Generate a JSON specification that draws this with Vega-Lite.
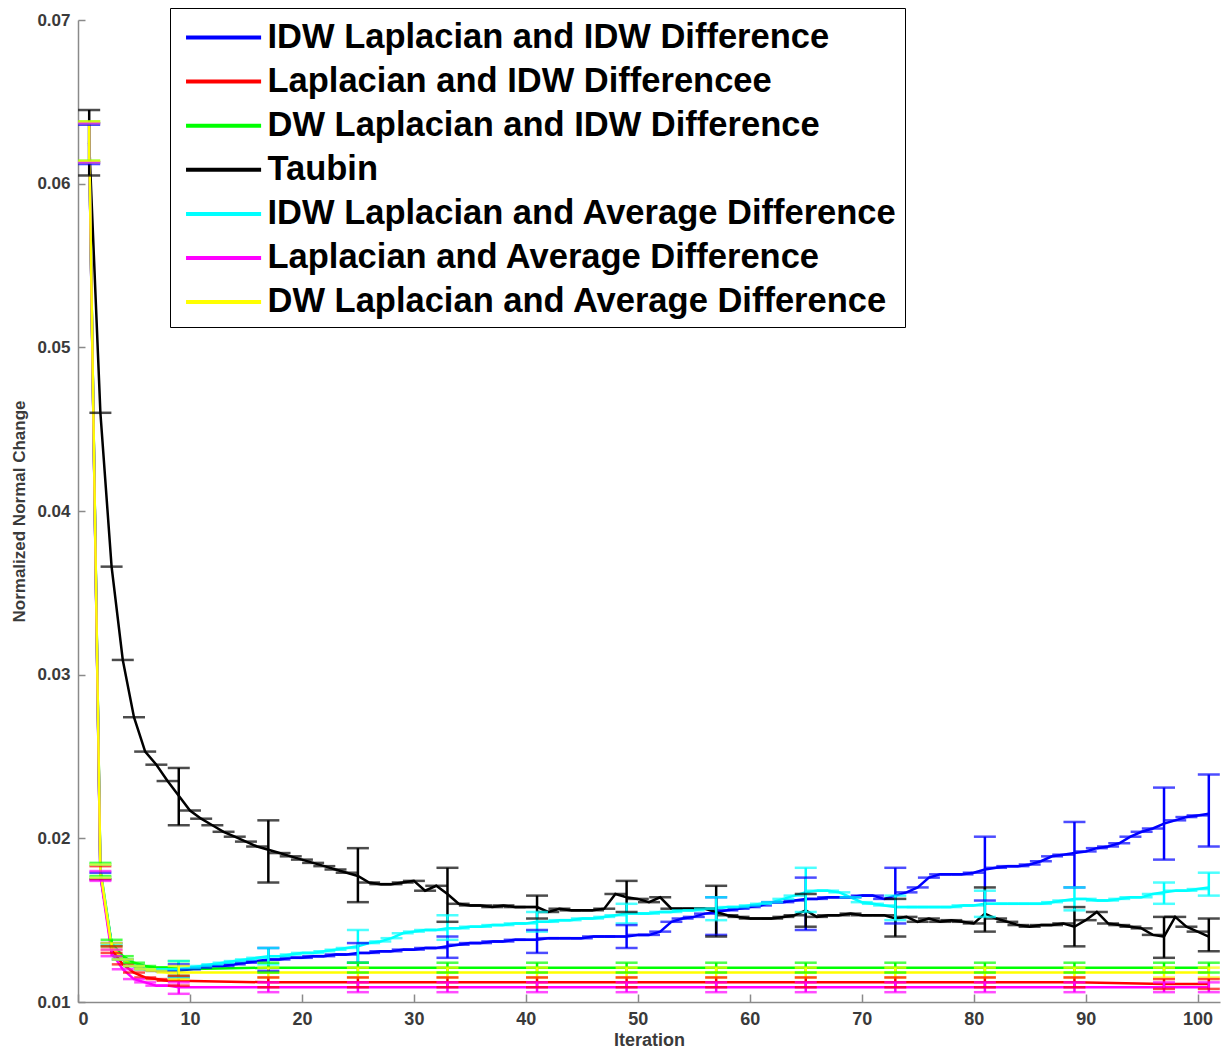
{
"$schema": "https://vega.github.io/schema/vega-lite/v6.json",
"width": 1142, "height": 982,
"autosize": "none",
"padding": {"left": 78, "top": 20, "right": 7, "bottom": 48},
"background": "white",
"config": {"view": {"stroke": null}, "font": "Liberation Sans"},
"datasets": {
"names": [
{"s":"B","name":"IDW Laplacian and IDW Difference"},
{"s":"R","name":"Laplacian and IDW Differencee"},
{"s":"G","name":"DW Laplacian and IDW Difference"},
{"s":"T","name":"Taubin"},
{"s":"C","name":"IDW Laplacian and Average Difference"},
{"s":"M","name":"Laplacian and Average Difference"},
{"s":"Y","name":"DW Laplacian and Average Difference"}
],
"pts": [
{"s":"B","it":1,"y":0.0624,"lo":0.0612,"hi":0.0636},
{"s":"B","it":2,"y":0.0177,"lo":0.0175,"hi":0.0179},
{"s":"B","it":3,"y":0.0136},{"s":"B","it":4,"y":0.0126},{"s":"B","it":5,"y":0.0122},{"s":"B","it":6,"y":0.0120},{"s":"B","it":7,"y":0.0119},{"s":"B","it":8,"y":0.0119},
{"s":"B","it":9,"y":0.0119,"lo":0.0115,"hi":0.0123},
{"s":"B","it":10,"y":0.0120},{"s":"B","it":11,"y":0.0121},{"s":"B","it":12,"y":0.0122},{"s":"B","it":13,"y":0.0122},{"s":"B","it":14,"y":0.0123},{"s":"B","it":15,"y":0.0124},{"s":"B","it":16,"y":0.0125},
{"s":"B","it":17,"y":0.0126,"lo":0.0119,"hi":0.0133},
{"s":"B","it":18,"y":0.0126},{"s":"B","it":19,"y":0.0127},{"s":"B","it":20,"y":0.0127},{"s":"B","it":21,"y":0.0128},{"s":"B","it":22,"y":0.0128},{"s":"B","it":23,"y":0.0129},{"s":"B","it":24,"y":0.0129},
{"s":"B","it":25,"y":0.0130,"lo":0.0124,"hi":0.0136},
{"s":"B","it":26,"y":0.0130},{"s":"B","it":27,"y":0.0131},{"s":"B","it":28,"y":0.0131},{"s":"B","it":29,"y":0.0132},{"s":"B","it":30,"y":0.0132},{"s":"B","it":31,"y":0.0133},{"s":"B","it":32,"y":0.0133},
{"s":"B","it":33,"y":0.0134,"lo":0.0127,"hi":0.0140},
{"s":"B","it":34,"y":0.0135},{"s":"B","it":35,"y":0.0136},{"s":"B","it":36,"y":0.0136},{"s":"B","it":37,"y":0.0137},{"s":"B","it":38,"y":0.0137},{"s":"B","it":39,"y":0.0138},{"s":"B","it":40,"y":0.0138},
{"s":"B","it":41,"y":0.0138,"lo":0.0130,"hi":0.0144},
{"s":"B","it":42,"y":0.0139},{"s":"B","it":43,"y":0.0139},{"s":"B","it":44,"y":0.0139},{"s":"B","it":45,"y":0.0139},{"s":"B","it":46,"y":0.0140},{"s":"B","it":47,"y":0.0140},{"s":"B","it":48,"y":0.0140},
{"s":"B","it":49,"y":0.0140,"lo":0.0133,"hi":0.0147},
{"s":"B","it":50,"y":0.0141},{"s":"B","it":51,"y":0.0141},{"s":"B","it":52,"y":0.0143},{"s":"B","it":53,"y":0.0149},{"s":"B","it":54,"y":0.0151},{"s":"B","it":55,"y":0.0152},{"s":"B","it":56,"y":0.0154},
{"s":"B","it":57,"y":0.0155,"lo":0.0141,"hi":0.0164},
{"s":"B","it":58,"y":0.0156},{"s":"B","it":59,"y":0.0157},{"s":"B","it":60,"y":0.0158},{"s":"B","it":61,"y":0.0159},{"s":"B","it":62,"y":0.0161},{"s":"B","it":63,"y":0.0161},{"s":"B","it":64,"y":0.0162},
{"s":"B","it":65,"y":0.0163,"lo":0.0144,"hi":0.0176},
{"s":"B","it":66,"y":0.0163},{"s":"B","it":67,"y":0.0164},{"s":"B","it":68,"y":0.0164},{"s":"B","it":69,"y":0.0164},{"s":"B","it":70,"y":0.0165},{"s":"B","it":71,"y":0.0165},{"s":"B","it":72,"y":0.0163},
{"s":"B","it":73,"y":0.0165,"lo":0.0148,"hi":0.0182},
{"s":"B","it":74,"y":0.0167},{"s":"B","it":75,"y":0.0170},{"s":"B","it":76,"y":0.0176},{"s":"B","it":77,"y":0.0178},{"s":"B","it":78,"y":0.0178},{"s":"B","it":79,"y":0.0178},{"s":"B","it":80,"y":0.0179},
{"s":"B","it":81,"y":0.0181,"lo":0.0162,"hi":0.0201},
{"s":"B","it":82,"y":0.0182},{"s":"B","it":83,"y":0.0183},{"s":"B","it":84,"y":0.0183},{"s":"B","it":85,"y":0.0184},{"s":"B","it":86,"y":0.0186},{"s":"B","it":87,"y":0.0189},{"s":"B","it":88,"y":0.0190},
{"s":"B","it":89,"y":0.0191,"lo":0.0170,"hi":0.0210},
{"s":"B","it":90,"y":0.0192},{"s":"B","it":91,"y":0.0194},{"s":"B","it":92,"y":0.0195},{"s":"B","it":93,"y":0.0197},{"s":"B","it":94,"y":0.0201},{"s":"B","it":95,"y":0.0204},{"s":"B","it":96,"y":0.0206},
{"s":"B","it":97,"y":0.0209,"lo":0.0187,"hi":0.0231},
{"s":"B","it":98,"y":0.0211},{"s":"B","it":99,"y":0.0213},{"s":"B","it":100,"y":0.0214},
{"s":"B","it":101,"y":0.0215,"lo":0.0195,"hi":0.0239},

{"s":"R","it":1,"y":0.0625,"lo":0.0613,"hi":0.0637},
{"s":"R","it":2,"y":0.0179,"lo":0.0175,"hi":0.0183},
{"s":"R","it":3,"y":0.0132,"lo":0.0130,"hi":0.0134},
{"s":"R","it":4,"y":0.0123},{"s":"R","it":5,"y":0.0118},{"s":"R","it":6,"y":0.0115},{"s":"R","it":7,"y":0.0114},{"s":"R","it":8,"y":0.0113},
{"s":"R","it":9,"y":0.0113,"lo":0.0110,"hi":0.0116},
{"s":"R","it":17,"y":0.0112,"lo":0.0109,"hi":0.0115},
{"s":"R","it":25,"y":0.0112,"lo":0.0109,"hi":0.0115},
{"s":"R","it":33,"y":0.0112,"lo":0.0109,"hi":0.0115},
{"s":"R","it":41,"y":0.0112,"lo":0.0109,"hi":0.0115},
{"s":"R","it":49,"y":0.0112,"lo":0.0109,"hi":0.0115},
{"s":"R","it":57,"y":0.0112,"lo":0.0109,"hi":0.0115},
{"s":"R","it":65,"y":0.0112,"lo":0.0109,"hi":0.0115},
{"s":"R","it":73,"y":0.0112,"lo":0.0109,"hi":0.0115},
{"s":"R","it":81,"y":0.0112,"lo":0.0109,"hi":0.0115},
{"s":"R","it":89,"y":0.0112,"lo":0.0109,"hi":0.0115},
{"s":"R","it":97,"y":0.0111,"lo":0.0108,"hi":0.0114},
{"s":"R","it":101,"y":0.0111,"lo":0.0108,"hi":0.0114},

{"s":"G","it":1,"y":0.0626,"lo":0.0614,"hi":0.0638},
{"s":"G","it":2,"y":0.0181,"lo":0.0177,"hi":0.0185},
{"s":"G","it":3,"y":0.0136,"lo":0.0134,"hi":0.0138},
{"s":"G","it":4,"y":0.0128},{"s":"G","it":5,"y":0.0124},{"s":"G","it":6,"y":0.0122},{"s":"G","it":7,"y":0.0121},{"s":"G","it":8,"y":0.0121},
{"s":"G","it":9,"y":0.0120,"lo":0.0116,"hi":0.0125},
{"s":"G","it":17,"y":0.0121,"lo":0.0118,"hi":0.0124},
{"s":"G","it":25,"y":0.0121,"lo":0.0118,"hi":0.0124},
{"s":"G","it":33,"y":0.0121,"lo":0.0118,"hi":0.0124},
{"s":"G","it":41,"y":0.0121,"lo":0.0118,"hi":0.0124},
{"s":"G","it":49,"y":0.0121,"lo":0.0118,"hi":0.0124},
{"s":"G","it":57,"y":0.0121,"lo":0.0118,"hi":0.0124},
{"s":"G","it":65,"y":0.0121,"lo":0.0118,"hi":0.0124},
{"s":"G","it":73,"y":0.0121,"lo":0.0118,"hi":0.0124},
{"s":"G","it":81,"y":0.0121,"lo":0.0118,"hi":0.0124},
{"s":"G","it":89,"y":0.0121,"lo":0.0118,"hi":0.0124},
{"s":"G","it":97,"y":0.0121,"lo":0.0118,"hi":0.0124},
{"s":"G","it":101,"y":0.0121,"lo":0.0118,"hi":0.0124},

{"s":"T","it":1,"y":0.0625,"lo":0.0605,"hi":0.0645},
{"s":"T","it":2,"y":0.0460},{"s":"T","it":3,"y":0.0366},{"s":"T","it":4,"y":0.0309},{"s":"T","it":5,"y":0.0274},{"s":"T","it":6,"y":0.0253},{"s":"T","it":7,"y":0.0245},{"s":"T","it":8,"y":0.0235},
{"s":"T","it":9,"y":0.0226,"lo":0.0208,"hi":0.0243},
{"s":"T","it":10,"y":0.0217},{"s":"T","it":11,"y":0.0212},{"s":"T","it":12,"y":0.0208},{"s":"T","it":13,"y":0.0204},{"s":"T","it":14,"y":0.0201},{"s":"T","it":15,"y":0.0198},{"s":"T","it":16,"y":0.0195},
{"s":"T","it":17,"y":0.0193,"lo":0.0173,"hi":0.0211},
{"s":"T","it":18,"y":0.0191},{"s":"T","it":19,"y":0.0189},{"s":"T","it":20,"y":0.0187},{"s":"T","it":21,"y":0.0185},{"s":"T","it":22,"y":0.0183},{"s":"T","it":23,"y":0.0181},{"s":"T","it":24,"y":0.0179},
{"s":"T","it":25,"y":0.0177,"lo":0.0161,"hi":0.0194},
{"s":"T","it":26,"y":0.0173},{"s":"T","it":27,"y":0.0172},{"s":"T","it":28,"y":0.0172},{"s":"T","it":29,"y":0.0173},{"s":"T","it":30,"y":0.0174},{"s":"T","it":31,"y":0.0168},{"s":"T","it":32,"y":0.0171},
{"s":"T","it":33,"y":0.0166,"lo":0.0149,"hi":0.0182},
{"s":"T","it":34,"y":0.0160},{"s":"T","it":35,"y":0.0159},{"s":"T","it":36,"y":0.0159},{"s":"T","it":37,"y":0.0158},{"s":"T","it":38,"y":0.0159},{"s":"T","it":39,"y":0.0158},{"s":"T","it":40,"y":0.0158},
{"s":"T","it":41,"y":0.0158,"lo":0.0151,"hi":0.0165},
{"s":"T","it":42,"y":0.0155},{"s":"T","it":43,"y":0.0157},{"s":"T","it":44,"y":0.0156},{"s":"T","it":45,"y":0.0156},{"s":"T","it":46,"y":0.0156},{"s":"T","it":47,"y":0.0157},{"s":"T","it":48,"y":0.0166},
{"s":"T","it":49,"y":0.0164,"lo":0.0155,"hi":0.0174},
{"s":"T","it":50,"y":0.0163},{"s":"T","it":51,"y":0.0161},{"s":"T","it":52,"y":0.0164},{"s":"T","it":53,"y":0.0157},{"s":"T","it":54,"y":0.0157},{"s":"T","it":55,"y":0.0157},{"s":"T","it":56,"y":0.0157},
{"s":"T","it":57,"y":0.0155,"lo":0.0140,"hi":0.0171},
{"s":"T","it":58,"y":0.0153},{"s":"T","it":59,"y":0.0152},{"s":"T","it":60,"y":0.0151},{"s":"T","it":61,"y":0.0151},{"s":"T","it":62,"y":0.0151},{"s":"T","it":63,"y":0.0152},{"s":"T","it":64,"y":0.0153},
{"s":"T","it":65,"y":0.0156,"lo":0.0146,"hi":0.0166},
{"s":"T","it":66,"y":0.0152},{"s":"T","it":67,"y":0.0153},{"s":"T","it":68,"y":0.0153},{"s":"T","it":69,"y":0.0154},{"s":"T","it":70,"y":0.0153},{"s":"T","it":71,"y":0.0153},{"s":"T","it":72,"y":0.0153},
{"s":"T","it":73,"y":0.0151,"lo":0.0140,"hi":0.0163},
{"s":"T","it":74,"y":0.0152},{"s":"T","it":75,"y":0.0149},{"s":"T","it":76,"y":0.0151},{"s":"T","it":77,"y":0.0149},{"s":"T","it":78,"y":0.0150},{"s":"T","it":79,"y":0.0149},{"s":"T","it":80,"y":0.0148},
{"s":"T","it":81,"y":0.0154,"lo":0.0143,"hi":0.0170},
{"s":"T","it":82,"y":0.0151},{"s":"T","it":83,"y":0.0149},{"s":"T","it":84,"y":0.0147},{"s":"T","it":85,"y":0.0146},{"s":"T","it":86,"y":0.0147},{"s":"T","it":87,"y":0.0147},{"s":"T","it":88,"y":0.0148},
{"s":"T","it":89,"y":0.0146,"lo":0.0134,"hi":0.0158},
{"s":"T","it":90,"y":0.0150},{"s":"T","it":91,"y":0.0155},{"s":"T","it":92,"y":0.0148},{"s":"T","it":93,"y":0.0147},{"s":"T","it":94,"y":0.0146},{"s":"T","it":95,"y":0.0145},{"s":"T","it":96,"y":0.0141},
{"s":"T","it":97,"y":0.0140,"lo":0.0127,"hi":0.0152},
{"s":"T","it":98,"y":0.0152},{"s":"T","it":99,"y":0.0146},{"s":"T","it":100,"y":0.0143},
{"s":"T","it":101,"y":0.0140,"lo":0.0131,"hi":0.0151},

{"s":"C","it":1,"y":0.0625,"lo":0.0613,"hi":0.0637},
{"s":"C","it":2,"y":0.0180,"lo":0.0176,"hi":0.0184},
{"s":"C","it":3,"y":0.0135},{"s":"C","it":4,"y":0.0126},{"s":"C","it":5,"y":0.0122},{"s":"C","it":6,"y":0.0120},{"s":"C","it":7,"y":0.0120},{"s":"C","it":8,"y":0.0120},
{"s":"C","it":9,"y":0.0120,"lo":0.0115,"hi":0.0125},
{"s":"C","it":10,"y":0.0121},{"s":"C","it":11,"y":0.0122},{"s":"C","it":12,"y":0.0123},{"s":"C","it":13,"y":0.0124},{"s":"C","it":14,"y":0.0125},{"s":"C","it":15,"y":0.0126},{"s":"C","it":16,"y":0.0127},
{"s":"C","it":17,"y":0.0128,"lo":0.0123,"hi":0.0133},
{"s":"C","it":18,"y":0.0128},{"s":"C","it":19,"y":0.0129},{"s":"C","it":20,"y":0.0130},{"s":"C","it":21,"y":0.0130},{"s":"C","it":22,"y":0.0131},{"s":"C","it":23,"y":0.0132},{"s":"C","it":24,"y":0.0133},
{"s":"C","it":25,"y":0.0134,"lo":0.0124,"hi":0.0144},
{"s":"C","it":26,"y":0.0136},{"s":"C","it":27,"y":0.0137},{"s":"C","it":28,"y":0.0139},{"s":"C","it":29,"y":0.0142},{"s":"C","it":30,"y":0.0143},{"s":"C","it":31,"y":0.0144},{"s":"C","it":32,"y":0.0144},
{"s":"C","it":33,"y":0.0145,"lo":0.0138,"hi":0.0153},
{"s":"C","it":34,"y":0.0145},{"s":"C","it":35,"y":0.0146},{"s":"C","it":36,"y":0.0146},{"s":"C","it":37,"y":0.0147},{"s":"C","it":38,"y":0.0147},{"s":"C","it":39,"y":0.0148},{"s":"C","it":40,"y":0.0148},
{"s":"C","it":41,"y":0.0149,"lo":0.0143,"hi":0.0155},
{"s":"C","it":42,"y":0.0149},{"s":"C","it":43,"y":0.0150},{"s":"C","it":44,"y":0.0150},{"s":"C","it":45,"y":0.0151},{"s":"C","it":46,"y":0.0151},{"s":"C","it":47,"y":0.0152},{"s":"C","it":48,"y":0.0153},
{"s":"C","it":49,"y":0.0154,"lo":0.0148,"hi":0.0160},
{"s":"C","it":50,"y":0.0154},{"s":"C","it":51,"y":0.0154},{"s":"C","it":52,"y":0.0155},{"s":"C","it":53,"y":0.0155},{"s":"C","it":54,"y":0.0156},{"s":"C","it":55,"y":0.0156},{"s":"C","it":56,"y":0.0157},
{"s":"C","it":57,"y":0.0157,"lo":0.0150,"hi":0.0164},
{"s":"C","it":58,"y":0.0158},{"s":"C","it":59,"y":0.0158},{"s":"C","it":60,"y":0.0159},{"s":"C","it":61,"y":0.0160},{"s":"C","it":62,"y":0.0161},{"s":"C","it":63,"y":0.0163},{"s":"C","it":64,"y":0.0165},
{"s":"C","it":65,"y":0.0167,"lo":0.0155,"hi":0.0182},
{"s":"C","it":66,"y":0.0168},{"s":"C","it":67,"y":0.0168},{"s":"C","it":68,"y":0.0167},{"s":"C","it":69,"y":0.0164},{"s":"C","it":70,"y":0.0161},{"s":"C","it":71,"y":0.0160},{"s":"C","it":72,"y":0.0159},
{"s":"C","it":73,"y":0.0158,"lo":0.0150,"hi":0.0165},
{"s":"C","it":74,"y":0.0158},{"s":"C","it":75,"y":0.0158},{"s":"C","it":76,"y":0.0158},{"s":"C","it":77,"y":0.0158},{"s":"C","it":78,"y":0.0158},{"s":"C","it":79,"y":0.0159},{"s":"C","it":80,"y":0.0159},
{"s":"C","it":81,"y":0.0160,"lo":0.0152,"hi":0.0168},
{"s":"C","it":82,"y":0.0160},{"s":"C","it":83,"y":0.0160},{"s":"C","it":84,"y":0.0160},{"s":"C","it":85,"y":0.0160},{"s":"C","it":86,"y":0.0160},{"s":"C","it":87,"y":0.0161},{"s":"C","it":88,"y":0.0162},
{"s":"C","it":89,"y":0.0163,"lo":0.0156,"hi":0.0170},
{"s":"C","it":90,"y":0.0163},{"s":"C","it":91,"y":0.0162},{"s":"C","it":92,"y":0.0162},{"s":"C","it":93,"y":0.0163},{"s":"C","it":94,"y":0.0164},{"s":"C","it":95,"y":0.0164},{"s":"C","it":96,"y":0.0166},
{"s":"C","it":97,"y":0.0167,"lo":0.0160,"hi":0.0173},
{"s":"C","it":98,"y":0.0168},{"s":"C","it":99,"y":0.0168},{"s":"C","it":100,"y":0.0169},
{"s":"C","it":101,"y":0.0170,"lo":0.0165,"hi":0.0179},

{"s":"M","it":1,"y":0.0625,"lo":0.0613,"hi":0.0637},
{"s":"M","it":2,"y":0.0177,"lo":0.0174,"hi":0.0180},
{"s":"M","it":3,"y":0.0130,"lo":0.0128,"hi":0.0132},
{"s":"M","it":4,"y":0.0120},{"s":"M","it":5,"y":0.0114},{"s":"M","it":6,"y":0.0112},{"s":"M","it":7,"y":0.0110},{"s":"M","it":8,"y":0.0110},
{"s":"M","it":9,"y":0.0109,"lo":0.0105,"hi":0.0112},
{"s":"M","it":17,"y":0.0109,"lo":0.0106,"hi":0.0112},
{"s":"M","it":25,"y":0.0109,"lo":0.0106,"hi":0.0112},
{"s":"M","it":33,"y":0.0109,"lo":0.0106,"hi":0.0112},
{"s":"M","it":41,"y":0.0109,"lo":0.0106,"hi":0.0112},
{"s":"M","it":49,"y":0.0109,"lo":0.0106,"hi":0.0112},
{"s":"M","it":57,"y":0.0109,"lo":0.0106,"hi":0.0112},
{"s":"M","it":65,"y":0.0109,"lo":0.0106,"hi":0.0112},
{"s":"M","it":73,"y":0.0109,"lo":0.0106,"hi":0.0112},
{"s":"M","it":81,"y":0.0109,"lo":0.0106,"hi":0.0112},
{"s":"M","it":89,"y":0.0109,"lo":0.0106,"hi":0.0112},
{"s":"M","it":97,"y":0.0109,"lo":0.0106,"hi":0.0112},
{"s":"M","it":101,"y":0.0109,"lo":0.0106,"hi":0.0112},

{"s":"Y","it":1,"y":0.0626,"lo":0.0614,"hi":0.0638},
{"s":"Y","it":2,"y":0.0180,"lo":0.0176,"hi":0.0184},
{"s":"Y","it":3,"y":0.0134,"lo":0.0132,"hi":0.0136},
{"s":"Y","it":4,"y":0.0126},{"s":"Y","it":5,"y":0.0122},{"s":"Y","it":6,"y":0.0120},{"s":"Y","it":7,"y":0.0119},{"s":"Y","it":8,"y":0.0118},
{"s":"Y","it":9,"y":0.0118,"lo":0.0114,"hi":0.0122},
{"s":"Y","it":17,"y":0.0118,"lo":0.0115,"hi":0.0121},
{"s":"Y","it":25,"y":0.0118,"lo":0.0115,"hi":0.0121},
{"s":"Y","it":33,"y":0.0118,"lo":0.0115,"hi":0.0121},
{"s":"Y","it":41,"y":0.0118,"lo":0.0115,"hi":0.0121},
{"s":"Y","it":49,"y":0.0118,"lo":0.0115,"hi":0.0121},
{"s":"Y","it":57,"y":0.0118,"lo":0.0115,"hi":0.0121},
{"s":"Y","it":65,"y":0.0118,"lo":0.0115,"hi":0.0121},
{"s":"Y","it":73,"y":0.0118,"lo":0.0115,"hi":0.0121},
{"s":"Y","it":81,"y":0.0118,"lo":0.0115,"hi":0.0121},
{"s":"Y","it":89,"y":0.0118,"lo":0.0115,"hi":0.0121},
{"s":"Y","it":97,"y":0.0118,"lo":0.0115,"hi":0.0121},
{"s":"Y","it":101,"y":0.0118,"lo":0.0115,"hi":0.0121}
]
},
"data": {"name": "pts"},
"transform": [
{"lookup": "s", "from": {"data": {"name": "names"}, "key": "s", "fields": ["name"]}}
],
"encoding": {
"x": {"field": "it", "type": "quantitative",
 "scale": {"domain": [0, 102], "nice": false, "zero": false},
 "axis": {"title": "Iteration", "values": [0,10,20,30,40,50,60,70,80,90,100], "grid": false,
  "tickSize": -8, "tickColor": "#8a8a8a", "domainColor": "#8a8a8a", "domainWidth": 1.5, "tickWidth": 1.5,
  "labelPadding": 16, "labelFontSize": 18, "labelFontWeight": "bold", "labelColor": "#3a3a3a", "labelFont": "Liberation Sans",
  "titleFontSize": 18, "titleFontWeight": "bold", "titleColor": "#3a3a3a", "titleFont": "Liberation Sans", "titlePadding": 3}},
"color": {"field": "name", "type": "nominal",
 "scale": {"domain": ["IDW Laplacian and IDW Difference","Laplacian and IDW Differencee","DW Laplacian and IDW Difference","Taubin","IDW Laplacian and Average Difference","Laplacian and Average Difference","DW Laplacian and Average Difference"],
  "range": ["#0000ff","#ff0000","#00ff00","#000000","#00ffff","#ff00ff","#ffff00"]},
 "legend": {"orient": "none", "legendX": 92, "legendY": -12, "title": null,
  "symbolType": "M-0.7,0H3.2", "symbolSize": 1482, "symbolStrokeWidth": 4, "symbolOpacity": 1,
  "labelFontSize": 34.5, "labelFontWeight": "bold", "labelFont": "Liberation Sans", "labelColor": "#000000",
  "labelLimit": 2000, "labelOffset": 46.5, "padding": 8, "rowPadding": 6.1,
  "strokeColor": "#000000", "fillColor": "#ffffff"}}
},
"layer": [
{"mark": {"type": "line", "strokeWidth": 2.5},
 "encoding": {"y": {"field": "y", "type": "quantitative",
  "scale": {"domain": [0.01, 0.07], "nice": false, "zero": false},
  "axis": {"title": "Normalized Normal Change", "values": [0.01,0.02,0.03,0.04,0.05,0.06,0.07], "format": ".2f", "grid": false,
   "tickSize": -7, "tickColor": "#8a8a8a", "domainColor": "#8a8a8a", "domainWidth": 1.5, "tickWidth": 1.5,
   "labelPadding": 15, "labelFontSize": 17, "labelFontWeight": "bold", "labelColor": "#3a3a3a", "labelFont": "Liberation Sans",
   "titleFontSize": 17, "titleFontWeight": "bold", "titleColor": "#3a3a3a", "titleFont": "Liberation Sans", "titlePadding": 8}}}},
{"transform": [{"filter": "datum.lo == null"}],
 "mark": {"type": "tick", "orient": "horizontal", "size": 22, "thickness": 2.5},
 "encoding": {"y": {"field": "y", "type": "quantitative", "title": "Normalized Normal Change"}}},
{"mark": {"type": "rule", "strokeWidth": 2.5},
 "encoding": {"y": {"field": "lo", "type": "quantitative", "title": "Normalized Normal Change"}, "y2": {"field": "hi"}}},
{"mark": {"type": "tick", "orient": "horizontal", "size": 22, "thickness": 2.5},
 "encoding": {"y": {"field": "lo", "type": "quantitative", "title": "Normalized Normal Change"}}},
{"mark": {"type": "tick", "orient": "horizontal", "size": 22, "thickness": 2.5},
 "encoding": {"y": {"field": "hi", "type": "quantitative", "title": "Normalized Normal Change"}}}
]
}
